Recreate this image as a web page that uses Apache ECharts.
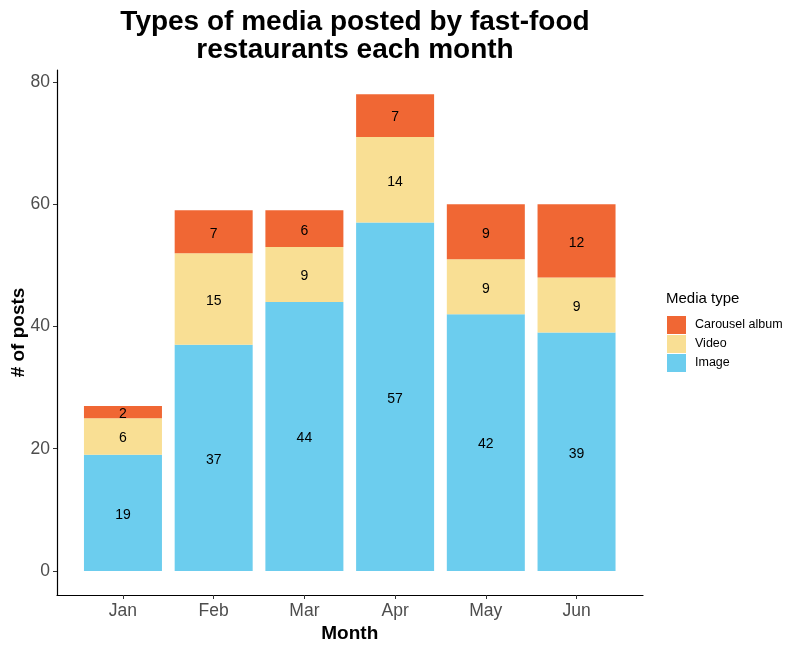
<!DOCTYPE html>
<html>
<head>
<meta charset="utf-8">
<script src="https://cdn.jsdelivr.net/npm/echarts@6/dist/echarts.min.js"></script>
<style>html,body{margin:0;padding:0;background:#fff}#c{width:800px;height:650px}</style>
</head>
<body>
<div id="c"></div>
<script>
const months = ['Jan', 'Feb', 'Mar', 'Apr', 'May', 'Jun'];
const imageVals = [19, 37, 44, 57, 42, 39];
const videoVals = [6, 15, 9, 14, 9, 9];
const carouselVals = [2, 7, 6, 7, 9, 12];
const yTicks = [0, 20, 40, 60, 80];

const FONT = '"Liberation Sans", Arial, sans-serif';
const chart = echarts.init(document.getElementById('c'));

function mk(name, vals, color) {
  return {
    name: name, type: 'bar', stack: 'total', barWidth: 78,
    xAxisIndex: 0, yAxisIndex: 0,
    data: vals,
    itemStyle: { color: color },
    label: { show: true, position: 'inside', offset: [0, 2], color: '#000', fontSize: 14, fontFamily: FONT },
    emphasis: { disabled: true }
  };
}

chart.setOption({
  animation: false,
  title: [
    { text: 'Types of media posted by fast-food\nrestaurants each month', left: 350, top: 3, textAlign: 'center',
      textStyle: { fontSize: 28, fontWeight: 'bold', color: '#000', fontFamily: FONT, lineHeight: 28 } },
    { text: 'Media type', left: 666, top: 291, padding: 0,
      textStyle: { fontSize: 15, fontWeight: 'normal', color: '#000', fontFamily: FONT } }
  ],
  legend: {
    orient: 'vertical', left: 667, top: 316, padding: 0, itemWidth: 19, itemHeight: 18, itemGap: 1,
    icon: 'rect', data: ['Carousel album', 'Video', 'Image'],
    textStyle: { fontSize: 12.5, color: '#000', fontFamily: FONT, padding: [0, 0, 0, 4] },
    selectedMode: false
  },
  grid: [
    { left: 77.6, right: 178.1, top: 70, bottom: 55, containLabel: false, outerBoundsMode: 'none' },
    { left: 57, right: 157, top: 70, bottom: 55, containLabel: false, outerBoundsMode: 'none' }
  ],
  xAxis: [
    {
      type: 'category', gridIndex: 0, data: months, boundaryGap: true,
      name: 'Month', nameLocation: 'middle', nameGap: 29, nameMoveOverlap: false,
      nameTextStyle: { fontSize: 19, fontWeight: 'bold', color: '#000', fontFamily: FONT },
      axisLine: { show: false, onZero: false },
      axisTick: { show: true, alignWithLabel: true, length: 4, lineStyle: { color: '#333' } },
      axisLabel: { fontSize: 17.5, color: '#4D4D4D', fontFamily: FONT, margin: 7 },
      splitLine: { show: false }
    },
    {
      type: 'value', gridIndex: 1, min: 0, max: 1,
      axisLine: { show: true, onZero: false, lineStyle: { color: '#000', width: 1.2 } },
      axisTick: { show: false }, axisLabel: { show: false }, splitLine: { show: false }
    }
  ],
  yAxis: [
    {
      type: 'value', gridIndex: 0, min: -3.93, max: 81.96, offset: 20.6,
      name: '# of posts', nameLocation: 'middle', nameGap: 29, nameRotate: 90, nameMoveOverlap: false,
      nameTextStyle: { fontSize: 19, fontWeight: 'bold', color: '#000', fontFamily: FONT },
      axisLine: { show: true, onZero: false, lineStyle: { color: '#000', width: 1.2 } },
      axisTick: { show: true, length: 4, customValues: yTicks, lineStyle: { color: '#333' } },
      axisLabel: { customValues: yTicks, fontSize: 17.5, color: '#4D4D4D', fontFamily: FONT, margin: 7 },
      splitLine: { show: false }
    },
    {
      type: 'value', gridIndex: 1, min: 0, max: 1, show: false
    }
  ],
  series: [
    mk('Image', imageVals, '#6CCDEE'),
    mk('Video', videoVals, '#F9DF94'),
    mk('Carousel album', carouselVals, '#F06734')
  ]
});
</script>
</body>
</html>
